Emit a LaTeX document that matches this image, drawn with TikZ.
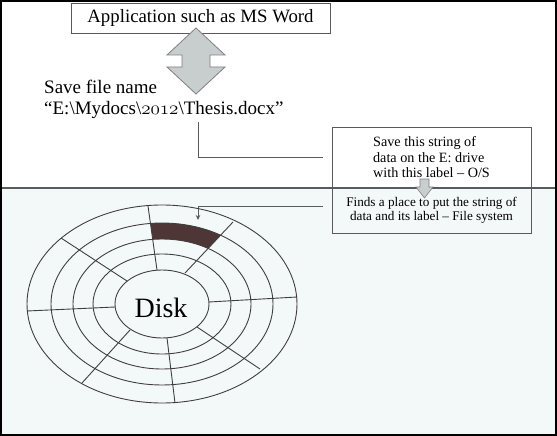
\RequirePackage{fix-cm}
\documentclass[tikz,border=0pt]{standalone}
\usepackage{fontspec}
\setmainfont{Liberation Serif}
\usetikzlibrary{arrows.meta}
\definecolor{bgc}{RGB}{243,249,249}
\definecolor{arrowfill}{RGB}{200,205,205}
\definecolor{linegray}{RGB}{90,90,90}
\definecolor{diskline}{RGB}{65,62,62}
\definecolor{sector}{RGB}{78,54,54}
\newcommand\osnum[1]{{\fontencoding{OML}\fontfamily{cmm}\fontseries{m}\fontshape{it}\selectfont #1}}
\begin{document}
\begin{tikzpicture}[x=1pt,y=-1pt,
  boxnode/.style={draw=linegray, line width=0.8pt, inner sep=0pt, outer sep=0pt},
  blockarrow/.style={fill=arrowfill, draw=gray, line width=0.8pt},
  diskring/.style={draw=diskline, line width=0.9pt},
  conn/.style={draw=linegray, line width=0.9pt}]
\useasboundingbox (0,0) rectangle (557,436);
\fill[white] (0,0) rectangle (557,188);
\fill[bgc] (0,188) rectangle (557,436);
\draw[linegray, line width=1.2pt] (0,188) -- (557,188);

% application box
\node[boxnode, fill=white, minimum width=259pt, minimum height=30pt,
      font=\fontsize{18.8}{20}\selectfont] (app) at (200.5,18) {Application such as MS Word};

% double block arrow
\draw[blockarrow] (196,28) -- (225,55) -- (210,55) -- (210,67) -- (225,67) -- (196,94)
  -- (167,67) -- (182,67) -- (182,55) -- (167,55) -- cycle;

% file name text
\node[anchor=west, align=left, inner sep=0pt, font=\fontsize{19}{21}\selectfont] (fname) at (44,99)
  {Save file name\\“E:\textbackslash Mydocs\textbackslash\osnum{2012}\textbackslash Thesis.docx”};

% O/S and file system boxes
\node[boxnode, minimum width=199pt, minimum height=61pt, align=left,
      font=\fontsize{14.2}{15.5}\selectfont] (os) at (431.5,157.5)
  {Save this string of\\data on the E: drive\\with this label – O/S};
\node[boxnode, minimum width=199pt, minimum height=45pt, align=center,
      font=\fontsize{13.2}{14}\selectfont] (fs) at (431.5,210.5)
  {Finds a place to put the string of\\data and its label – File system};

% small block arrow between boxes
\draw[blockarrow, line width=0.6pt] (420,179) -- (429,179) -- (429,187) -- (433,187)
  -- (424.5,198) -- (416,187) -- (420,187) -- cycle;

% connectors
\coordinate (c1a) at (198,122);
\coordinate (c1b) at (323,157);
\draw[conn] (c1a) |- (c1b);
\coordinate (c2a) at (323,206);
\coordinate (c2b) at (198,220);
\draw[conn, -{Stealth[length=5pt,width=4.5pt]}] (c2a) -| (c2b);

% highlighted sector
\begin{scope}
  \clip (148,206) -- (157,268) -- (185,273) -- (233,222) -- cycle;
  \fill[sector, even odd rule] (162,304) ellipse [x radius=111, y radius=81]
                               (162,304) ellipse [x radius=89, y radius=65];
\end{scope}

% disk rings
\foreach \rx/\ry in {135/99,111/81,89/65,69/50,47/34}
  \draw[diskring] (162,304) ellipse [x radius=\rx, y radius=\ry];

% radial lines
\draw[diskring] (148,206) -- (157,270);
\draw[diskring] (233,222) -- (185,273);
\draw[diskring] (209,302) -- (297,297);
\draw[diskring] (197,327) -- (260,369);
\draw[diskring] (167,338) -- (175,403);
\draw[diskring] (130,330) -- (82,383);
\draw[diskring] (115,307) -- (27,311);
\draw[diskring] (127,281) -- (61,238);

\node[inner sep=0pt, font=\fontsize{28}{30}\selectfont] (disk) at (161,307.5) {Disk};

% frame
\draw[black, line width=2pt] (1,1) rectangle (556,435);
\end{tikzpicture}
\end{document}
